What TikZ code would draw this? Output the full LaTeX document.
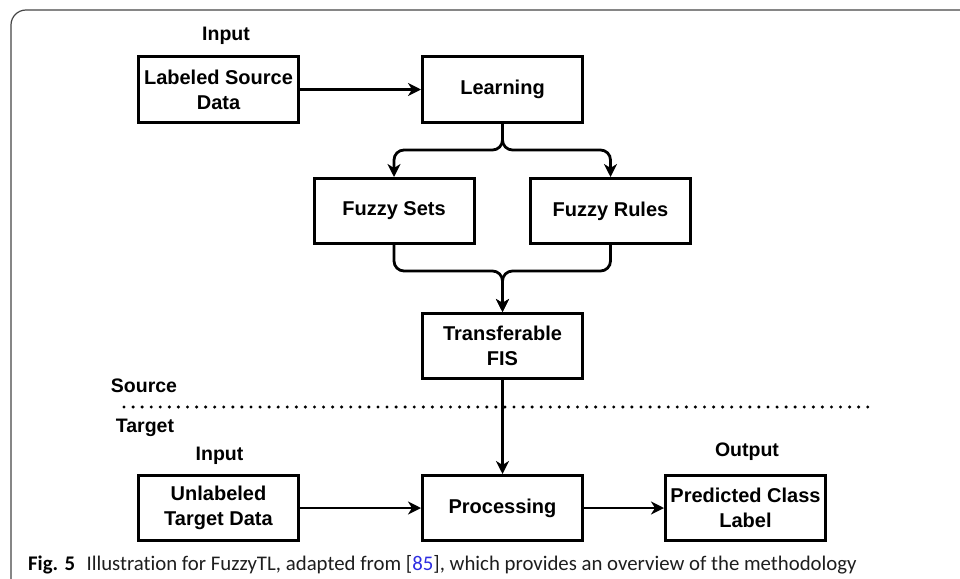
\documentclass[tikz,border=0pt]{standalone}
\usepackage{fontspec}
\setmainfont{Liberation Sans}
\newfontfamily\capfont[Ligatures=NoCommon]{Carlito}
\usetikzlibrary{arrows.meta,calc}
\definecolor{linkblue}{RGB}{45,45,225}
\definecolor{framegray}{RGB}{70,70,70}
\definecolor{captext}{RGB}{30,30,30}

\begin{document}
\begin{tikzpicture}[x=1pt,y=-1pt,
  stage/.style={draw, line width=3pt, minimum width=160pt, minimum height=65pt,
    inner sep=0pt, align=center, font=\fontsize{20}{25}\selectfont\bfseries},
  tag/.style={font=\fontsize{19.5}{23}\selectfont\bfseries, anchor=base, inner sep=0pt},
  flow/.style={line width=2.8pt, -{Stealth[length=13pt,width=13pt,inset=4pt]}},
]
\useasboundingbox (0,0) rectangle (960,578);
\fill[white] (0,0) rectangle (960,578);

% panel frame (only the top-left corner is inside the page)
\draw[line width=1.2pt, framegray, rounded corners=15pt] (11,620) -- (11,10) -- (990,10);

% process boxes
\node[stage] (src)   at (218.5,89.5) {Labeled Source\\Data};
\node[stage] (learn) at (502.5,89.5) {Learning};
\node[stage] (sets)  at (394,211)    {Fuzzy Sets};
\node[stage] (rules) at (610.5,211)  {Fuzzy Rules};
\node[stage] (fis)   at (502.5,346)  {Transferable\\FIS};
\node[stage] (tgt)   at (218.5,508)  {Unlabeled\\Target Data};
\node[stage] (proc)  at (502.5,508)  {Processing};
\node[stage] (pred)  at (745.5,508)  {Predicted Class\\Label};

% side labels
\node[tag] (inA)  at (226,40.5)  {Input};
\node[tag] (srcl) at (144,392)   {Source};
\node[tag] (tgtl) at (145,432)   {Target};
\node[tag] (inB)  at (219.5,460) {Input};
\node[tag] (outl) at (747,456)   {Output};

% source / target separator
\coordinate (dl) at (124,407);
\coordinate (dr) at (869,407);
\draw[line width=3.4pt, line cap=round, dash pattern=on 0pt off 9.07pt] (dl) -- (dr);

% connectors
\draw[flow] (src) -- (learn);
\draw[flow, rounded corners=10pt] (learn.south) |- ($(sets.north)+(0,-27)$) -- (sets.north);
\draw[flow, rounded corners=10pt] (learn.south) |- ($(rules.north)+(0,-27)$) -- (rules.north);
\draw[flow, rounded corners=10pt] (sets.south) |- ($(fis.north)+(0,-41)$) -- (fis.north);
\draw[flow, rounded corners=10pt] (rules.south) |- ($(fis.north)+(0,-41)$) -- (fis.north);
\draw[flow] (fis) -- (proc);
\draw[flow] (tgt) -- (proc);
\draw[flow] (proc) -- (pred);

% caption
\node[anchor=base west, inner sep=0pt, text=captext, font=\capfont\fontsize{20.8}{24}\selectfont] (cap) at (28,570)
  {\textbf{\color{black}Fig. 5}\hspace{0.55em}Illustration for FuzzyTL, adapted from [\textcolor{linkblue}{85}], which provides an overview of the methodology};
\end{tikzpicture}
\end{document}
